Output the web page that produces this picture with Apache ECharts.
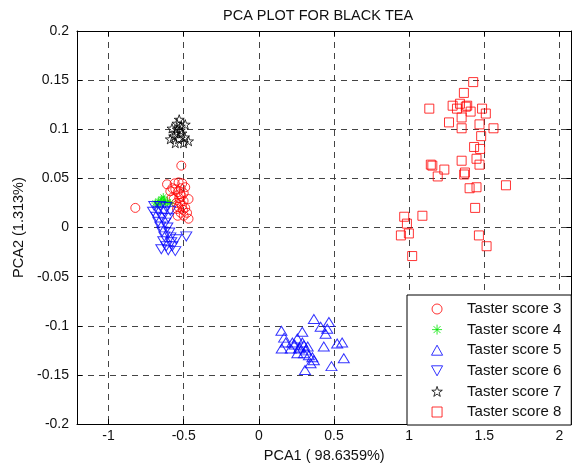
<!DOCTYPE html>
<html>
<head>
<meta charset="utf-8">
<script src="https://cdn.jsdelivr.net/npm/echarts@6/dist/echarts.min.js"></script>
<style>
  html, body { margin: 0; padding: 0; background: #fff; }
  #chart { width: 574px; height: 468px; }
</style>
</head>
<body>
<div id="chart"></div>
<script>
// tick labels
const xTicks = [-1, -0.5, 0, 0.5, 1, 1.5, 2];
const seriesNames = ["Taster score 3", "Taster score 4", "Taster score 5", "Taster score 6", "Taster score 7", "Taster score 8"];

// [PCA1, PCA2] per sample
const score3 = [
  [-0.611, 0.044], [-0.534, 0.046], [-0.490, 0.041], [-0.468, 0.029], [-0.478, 0.015],
  [-0.468, 0.009], [-0.556, 0.039], [-0.567, 0.029], [-0.523, 0.034], [-0.512, 0.022],
  [-0.545, 0.019], [-0.589, 0.037], [-0.501, 0.027], [-0.516, 0.063], [-0.822, 0.020],
  [-0.530, 0.030], [-0.550, 0.025], [-0.520, 0.040], [-0.500, 0.035], [-0.540, 0.012],
  [-0.520, 0.015], [-0.580, 0.030], [-0.490, 0.020], [-0.510, 0.045], [-0.560, 0.045],
  [-0.575, 0.040], [-0.500, 0.012], [-0.540, 0.036], [-0.525, 0.025], [-0.535, 0.021],
  [-0.515, 0.032], [-0.505, 0.018]
];
const score4 = [
  [-0.689, 0.025], [-0.669, 0.027], [-0.649, 0.029], [-0.629, 0.028], [-0.609, 0.026],
  [-0.656, 0.024], [-0.623, 0.024], [-0.636, 0.031], [-0.589, 0.025], [-0.676, 0.023]
];
const score5 = [
  [0.366, -0.093], [0.466, -0.096], [0.411, -0.101], [0.455, -0.103], [0.150, -0.105],
  [0.289, -0.106], [0.444, -0.108], [0.168, -0.112], [0.256, -0.113], [0.554, -0.117],
  [0.521, -0.118], [0.432, -0.121], [0.179, -0.117], [0.223, -0.117], [0.289, -0.117],
  [0.152, -0.123], [0.212, -0.123], [0.267, -0.123], [0.311, -0.125], [0.300, -0.120],
  [0.256, -0.128], [0.300, -0.128], [0.333, -0.130], [0.356, -0.132], [0.366, -0.135],
  [0.344, -0.138], [0.565, -0.133], [0.483, -0.141], [0.307, -0.145], [0.272, -0.122],
  [0.238, -0.119], [0.325, -0.121]
];
const score6 = [
  [-0.696, 0.022], [-0.656, 0.022], [-0.616, 0.021], [-0.704, 0.016], [-0.669, 0.017],
  [-0.629, 0.016], [-0.589, 0.017], [-0.682, 0.011], [-0.643, 0.010], [-0.603, 0.010],
  [-0.669, 0.006], [-0.623, 0.005], [-0.656, 0.001], [-0.609, 0.000], [-0.643, -0.004],
  [-0.596, -0.005], [-0.629, -0.009], [-0.589, -0.010], [-0.636, -0.014], [-0.583, -0.015],
  [-0.616, -0.019], [-0.576, -0.019], [-0.603, -0.023], [-0.556, -0.024], [-0.483, -0.009],
  [-0.550, -0.012], [-0.649, -0.022]
];
const score7 = [
  [-0.545, 0.106], [-0.490, 0.105], [-0.578, 0.101], [-0.523, 0.103], [-0.556, 0.096],
  [-0.512, 0.096], [-0.589, 0.090], [-0.534, 0.090], [-0.468, 0.088], [-0.501, 0.086],
  [-0.556, 0.086], [-0.530, 0.110], [-0.567, 0.093], [-0.494, 0.092], [-0.543, 0.100],
  [-0.523, 0.099]
];
const score8 = [
  [1.426, 0.148], [1.364, 0.137], [1.134, 0.121], [1.289, 0.124], [1.318, 0.121],
  [1.338, 0.126], [1.386, 0.124], [1.377, 0.123], [1.409, 0.118], [1.485, 0.121],
  [1.510, 0.116], [1.349, 0.112], [1.265, 0.107], [1.468, 0.105], [1.349, 0.101],
  [1.561, 0.101], [1.479, 0.093], [1.432, 0.082], [1.472, 0.080], [1.448, 0.070],
  [1.349, 0.068], [1.468, 0.064], [1.144, 0.064], [1.154, 0.063], [1.234, 0.059],
  [1.190, 0.052], [1.371, 0.056], [1.366, 0.054], [1.402, 0.040], [1.448, 0.041],
  [1.644, 0.043], [1.439, 0.020], [1.088, 0.012], [0.967, 0.011], [0.985, 0.004],
  [0.998, -0.006], [0.945, -0.008], [1.464, -0.008], [1.515, -0.019], [1.020, -0.029]
];

// marker shapes (MATLAB style)
function pentagram() {
  let d = "";
  for (let i = 0; i < 10; i++) {
    const a = (-90 + i * 36) * Math.PI / 180;
    const r = i % 2 === 0 ? 5 : 1.95;
    d += (i === 0 ? "M" : "L") + (r * Math.cos(a)).toFixed(3) + "," + (r * Math.sin(a)).toFixed(3);
  }
  return "path://" + d + "Z";
}
const SYM_SQUARE = "path://M0,0L10,0L10,10L0,10Z";
const SYM_UP = "path://M5,0L10,9L0,9Z";
const SYM_DOWN = "path://M0,0L10,0L5,9Z";
const SYM_AST = "path://M0,-5L0,5M-5,0L5,0M-3.5,-3.5L3.5,3.5M-3.5,3.5L3.5,-3.5";
const SYM_STAR = pentagram();

const font = "Liberation Sans";

function hollow(name, data, symbol, size, color) {
  return {
    name: name,
    type: "scatter",
    data: data,
    symbol: symbol,
    symbolSize: size,
    symbolKeepAspect: true,
    itemStyle: { color: "rgba(0,0,0,0)", borderColor: color, borderWidth: 1 },
    emphasis: { disabled: true },
  };
}

const chart = echarts.init(document.getElementById("chart"));
chart.setOption({
  animation: false,
  title: {
    text: "PCA PLOT FOR BLACK TEA",
    left: 223,
    top: 8,
    padding: 0,
    textStyle: { fontFamily: font, fontSize: 14.5, fontWeight: "normal", color: "#111" },
  },
  grid: { left: 77, right: 2.5, top: 31, bottom: 42 },
  legend: {
    orient: "vertical",
    left: 407,
    top: 295,
    padding: [6.5, 10, 5.5, 24],
    itemWidth: 50,
    itemHeight: 10,
    itemGap: 5.6,
    selectedMode: false,
    backgroundColor: "#fff",
    borderColor: "#000",
    borderWidth: 1,
    itemStyle: { borderWidth: 1 },
    textStyle: { fontFamily: font, fontSize: 15, color: "#111" },
    data: seriesNames,
  },
  xAxis: [
    {
      type: "value",
      min: -1.21,
      max: 2.08,
      name: "PCA1 ( 98.6359%)",
      nameLocation: "middle",
      nameGap: 22,
      nameTextStyle: { fontFamily: font, fontSize: 14.5, color: "#111" },
      axisLine: { onZero: false, lineStyle: { color: "#000", width: 1 } },
      axisTick: { inside: true, length: 5, customValues: xTicks, lineStyle: { color: "#000" } },
      axisLabel: { customValues: xTicks, fontFamily: font, fontSize: 14, color: "#111", margin: 5 },
      splitLine: { show: true, lineStyle: { color: "#444", type: [6, 5], width: 1 } },
    },
    {
      type: "value",
      position: "top",
      min: -1.21,
      max: 2.08,
      axisLine: { onZero: false, lineStyle: { color: "#000", width: 1 } },
      axisTick: { inside: true, length: 5, customValues: xTicks, lineStyle: { color: "#000" } },
      axisLabel: { show: false },
      splitLine: { show: false },
    },
  ],
  yAxis: [
    {
      type: "value",
      min: -0.2,
      max: 0.2,
      interval: 0.05,
      name: "PCA2 (1.313%)",
      nameLocation: "middle",
      nameGap: 47,
      nameTextStyle: { fontFamily: font, fontSize: 14.5, color: "#111" },
      axisLine: { show: true, onZero: false, lineStyle: { color: "#000", width: 1 } },
      axisTick: { show: true, inside: true, length: 5, lineStyle: { color: "#000" } },
      axisLabel: { fontFamily: font, fontSize: 14, color: "#111", margin: 8 },
      splitLine: { show: true, lineStyle: { color: "#444", type: [6, 5], width: 1 } },
    },
    {
      type: "value",
      position: "right",
      min: -0.2,
      max: 0.2,
      interval: 0.05,
      axisLine: { show: true, onZero: false, lineStyle: { color: "#000", width: 1 } },
      axisTick: { show: true, inside: true, length: 5, lineStyle: { color: "#000" } },
      axisLabel: { show: false },
      splitLine: { show: false },
    },
  ],
  series: [
    hollow(seriesNames[0], score3, "circle", 9, "#ff0000"),
    hollow(seriesNames[1], score4, SYM_AST, 8, "#00e600"),
    hollow(seriesNames[2], score5, SYM_UP, [11, 10], "#0000ff"),
    hollow(seriesNames[3], score6, SYM_DOWN, [11, 10], "#0000ff"),
    hollow(seriesNames[4], score7, SYM_STAR, 10, "#000000"),
    hollow(seriesNames[5], score8, SYM_SQUARE, 9, "#ff0000"),
  ],
});
</script>
</body>
</html>
